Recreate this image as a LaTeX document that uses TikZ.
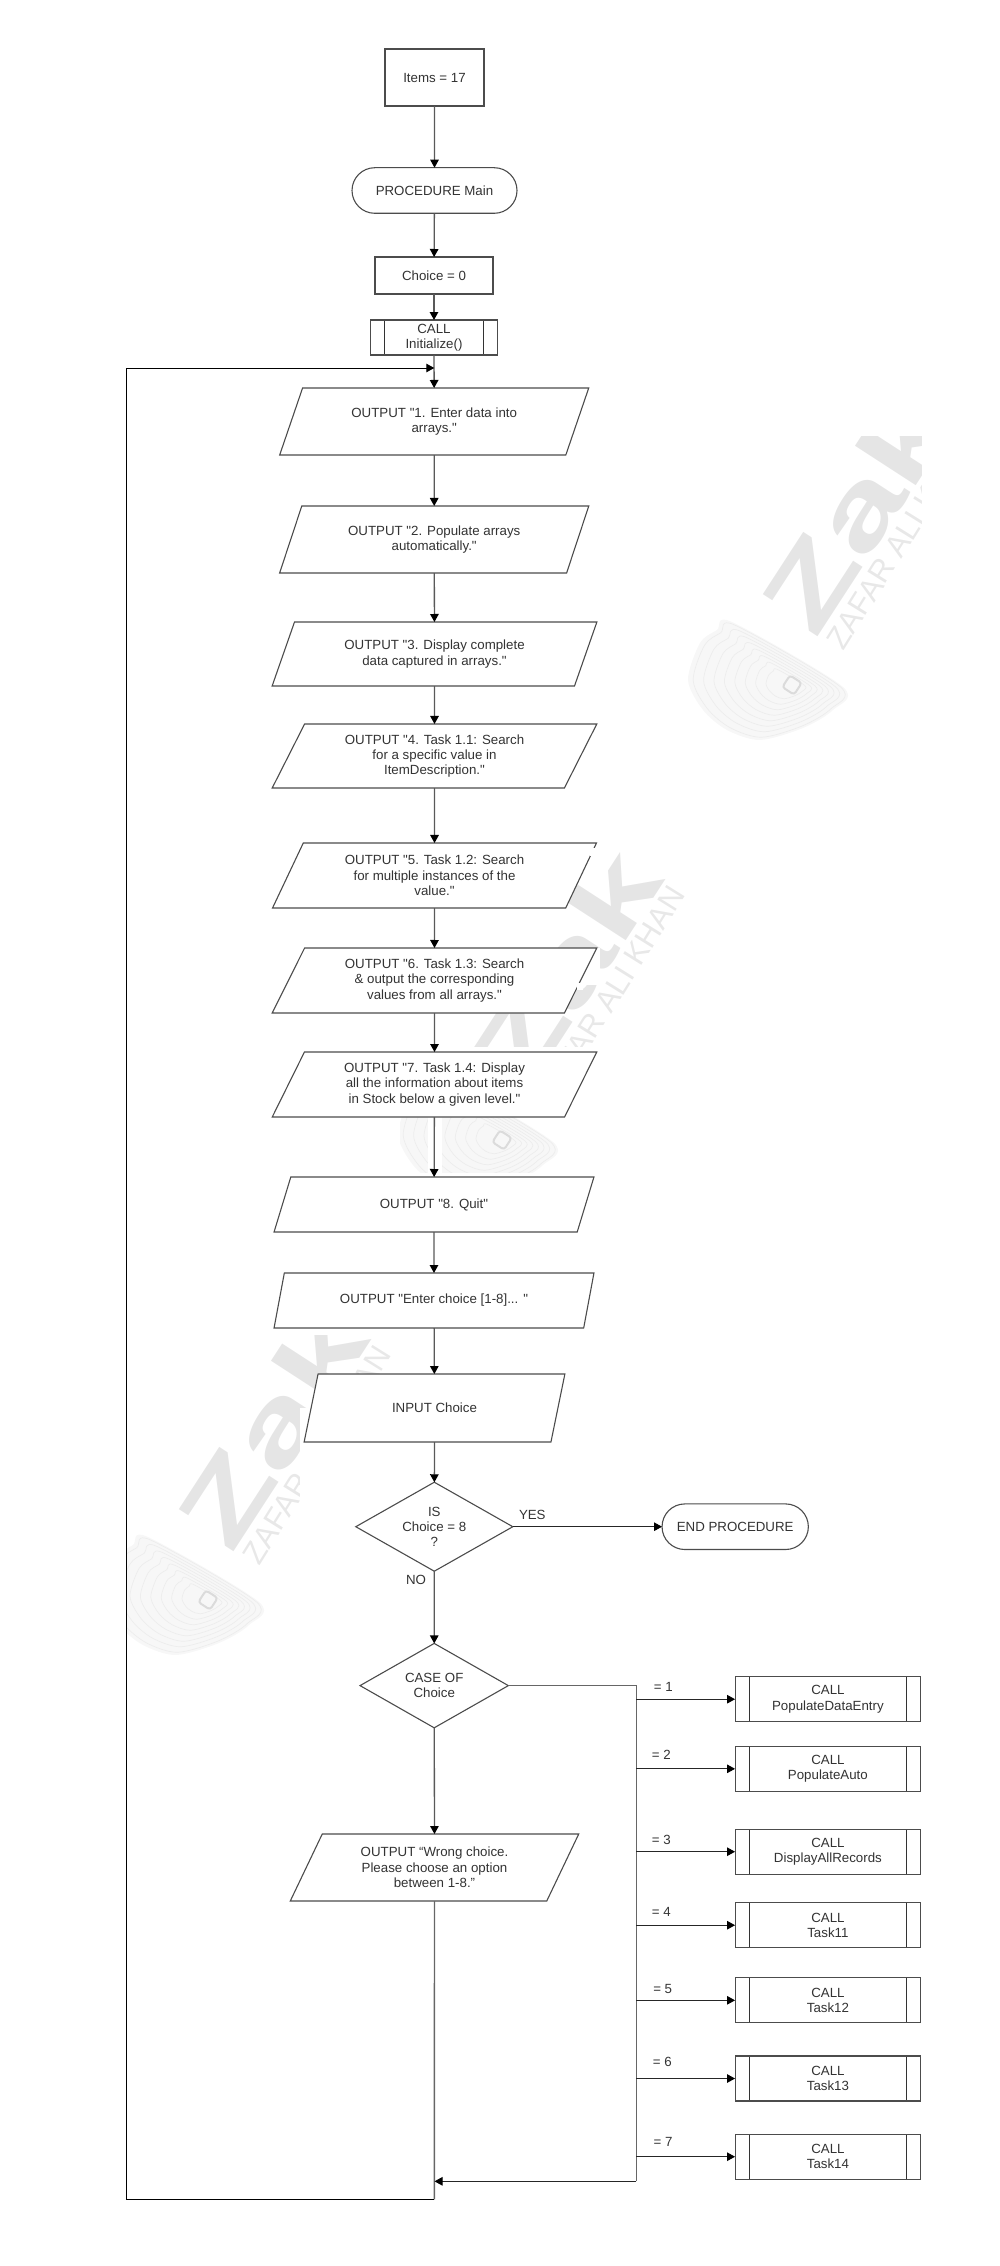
\documentclass[tikz,border=0pt]{standalone}
\usepackage{fontspec}
\setmainfont{Liberation Sans}
\newfontfamily\chartfont{Liberation Sans}
\usetikzlibrary{arrows.meta,shapes.geometric,shapes.misc}

\tikzset{
	base/.style={draw=black!70,line width=1.1pt,fill=white,outer sep=0pt,inner sep=0pt,align=center,text=black!80,font=\chartfont\fontsize{13.3}{15.3}\selectfont},
	procbox/.style={base,rectangle,minimum width=#1,minimum height=37},
	startend/.style={base,rounded rectangle,minimum width=#1,minimum height=45.6},
	iobox/.style={base,trapezium,trapezium left angle=62.5,trapezium right angle=117.5,trapezium stretches=true,minimum width=#1},
	choicebox/.style={base,diamond,aspect=1.7},
	callbox/.style={base,rectangle,minimum width=#1,minimum height=45,path picture={
		\draw[black!80,line width=1pt] ([xshift=14.3pt]path picture bounding box.north west) -- ([xshift=14.3pt]path picture bounding box.south west);
		\draw[black!80,line width=1pt] ([xshift=-14.3pt]path picture bounding box.north east) -- ([xshift=-14.3pt]path picture bounding box.south east);}},
	flow/.style={draw=black!65,line width=1.3pt,-{Triangle[length=8pt,width=8.5pt,color=black]}},
	trunk/.style={draw=black!60,line width=1.4pt},
	thinflow/.style={draw=black!85,line width=1pt,-{Triangle[length=8pt,width=8.5pt,color=black]}},
	loopline/.style={draw=black,line width=1pt},
	lab/.style={text=black!80,inner sep=0pt,font=\chartfont\fontsize{13.3}{15.3}\selectfont},
}

\newcommand{\zakmark}[2]{
	\begin{scope}[shift={(#1,#2)}]
		\node[rotate=57,text=black!10,inner sep=0pt,font=\bfseries\fontsize{100}{100}\selectfont] (zak#1) at (856,513) {\scalebox{1.5}[1]{Zak}};
		\node[rotate=58,text=black!9,inner sep=0pt,font=\fontsize{31}{31}\selectfont] (zafar#1) at (901,540) {ZAFAR ALI KHAN};
		\fill[black!3] plot[smooth cycle] coordinates {(732,622) (843,687) (833,710) (803,728) (760,740) (727,730) (703,710) (688,680) (700,643) (717,630)};
		\foreach \s in {.25,.35,.45,.55,.65,.75,.85,.95}
			\draw[black!7,line width=.7pt,scale around={\s:(792,685)}] plot[smooth cycle] coordinates {(732,622) (843,687) (833,710) (803,728) (760,740) (727,730) (703,710) (688,680) (700,643) (717,630)};
		\draw[black!14,line width=2pt,rounded corners=3pt,rotate around={-33:(792,685)}] (785,678) rectangle (799,692);
	\end{scope}
}

\begin{document}
\begin{tikzpicture}[x=1pt,y=-1pt]
	\useasboundingbox (0,0) rectangle (1000,2266);

	% watermarks
	\begin{scope}
		\clip (600,436) rectangle (921,780);
		\zakmark{0}{0}
	\end{scope}
	\begin{scope}
		\clip (400,851) rectangle (700,1172);
		\zakmark{-290}{455}
	\end{scope}
	\fill[white] (570,948) rectangle (600,985);
	\fill[white] (440,1047) rectangle (640,1052);
	\fill[white] (428,1117) rectangle (442,1177);
	\begin{scope}
		\clip (127,1335) rectangle (420,1690);
		\zakmark{-584}{915}
	\end{scope}
	\fill[white] (323,1374) rectangle (440,1408);
	\fill[white] (300,1408) rectangle (434,1660);

	% main column
	\node[procbox=99,minimum height=57] (items) at (434.5,77.5) {Items = 17};
	\node[startend=165] (main) at (434.5,190.5) {PROCEDURE Main};
	\node[procbox=118] (choice) at (434,275.5) {Choice = 0};
	\node[callbox=127,minimum height=35] (init) at (434,337.5) {CALL\\Initialize()};
	\node[iobox=310,minimum height=67] (out1) at (434.2,421.5) {OUTPUT "1. Enter data into\\arrays."};
	\node[iobox=310,minimum height=67] (out2) at (434.2,539.5) {OUTPUT "2. Populate arrays\\automatically."};
	\node[iobox=325,minimum height=64] (out3) at (434.5,654) {OUTPUT "3. Display complete\\data captured in arrays."};
	\node[iobox=325,minimum height=64] (out4) at (434.5,756) {OUTPUT "4. Task 1.1: Search\\for a specific value in\\ItemDescription."};
	\node[iobox=325,minimum height=65] (out5) at (434.5,875.5) {OUTPUT "5. Task 1.2: Search\\for multiple instances of the\\value."};
	\node[iobox=325,minimum height=65] (out6) at (434.5,980.5) {OUTPUT "6. Task 1.3: Search\\\& output the corresponding\\values from all arrays."};
	\node[iobox=325,minimum height=65] (out7) at (434.5,1084.5) {OUTPUT "7. Task 1.4: Display\\all the information about items\\in Stock below a given level."};
	\node[iobox=320,minimum height=55] (out8) at (434,1204.5) {OUTPUT "8. Quit"};
	\node[iobox=320,minimum height=55] (enter) at (434,1300.5) {OUTPUT "Enter choice [1-8]... "};
	\node[iobox=261,minimum height=68] (input) at (434.5,1408) {INPUT Choice};
	\node[choicebox,minimum width=157,minimum height=89] (isquit) at (434.3,1526.7) {IS\\Choice = 8\\?};
	\node[startend=146.3] (endproc) at (735.2,1526.7) {END PROCEDURE};
	\node[choicebox,minimum width=148.3,minimum height=84.4] (caseof) at (434.2,1685.6) {CASE OF\\Choice};
	\node[iobox=289,minimum height=67] (wrong) at (434.5,1867.5) {OUTPUT “Wrong choice.\\Please choose an option\\between 1-8.”};

	% gaps in two outlines
	\fill[white] (589.5,848) rectangle (597,856);
	\fill[white] (577,983) rectangle (583,990);

	% links down the column
	\draw[flow] (items) -- (main);
	\draw[flow] (main) -- (choice);
	\draw[flow] (choice) -- (init);
	\draw[flow] (init) -- (out1);
	\draw[flow] (out1) -- (out2);
	\draw[flow] (out2) -- (out3);
	\draw[flow] (out3) -- (out4);
	\draw[flow] (out4) -- (out5);
	\draw[flow] (out5) -- (out6);
	\draw[flow] (out6) -- (out7);
	\draw[flow] (out7) -- (out8);
	\draw[flow] (out8) -- (enter);
	\draw[flow] (enter) -- (input);
	\draw[flow] (input) -- (isquit);
	\draw[flow] (isquit) -- (caseof);
	\draw[flow] (caseof) -- (wrong);
	\draw[thinflow] (isquit) -- (endproc);
	\node[lab] (yes) at (532.3,1515) {YES};
	\node[lab] (no) at (416,1580) {NO};

	% case branches
	\coordinate (bustop) at (636.3,1685.6);
	\coordinate (busend) at (636.3,2181.3);
	\draw[trunk] (caseof) -- (bustop) -- (busend);
	\foreach \n/\y/\proc/\lx/\ly in {1/1699.2/PopulateDataEntry/663.3/1686.7,2/1768.8/PopulateAuto/661.3/1755,3/1851.7/DisplayAllRecords/661.3/1839.7,4/1925.2/Task11/661.3/1911.7,5/2000.3/Task12/662.7/1989.3,6/2078.5/Task13/662.3/2062.3,7/2156.7/Task14/663/2142}{
		\node[callbox=185.7] (call\n) at (827.9,\y) {CALL\\\proc};
		\draw[thinflow] (call\n.west -| bustop) -- (call\n.west);
		\node[lab] (eq\n) at (\lx,\ly) {= \n};
	}

	% back to the top
	\coordinate (loopin) at (434.3,368);
	\coordinate (loopcorner) at (126.3,368);
	\coordinate (loopbase) at (126.3,2199.3);
	\coordinate (wrongbase) at (434.3,2199.3);
	\draw[trunk] (wrong) -- (wrongbase);
	\draw[thinflow] (busend) -- (busend -| wrong.south);
	\draw[loopline,-{Triangle[length=8pt,width=8.5pt]}] (wrongbase) -- (loopbase) -- (loopcorner) -- (loopin);
\end{tikzpicture}
\end{document}
